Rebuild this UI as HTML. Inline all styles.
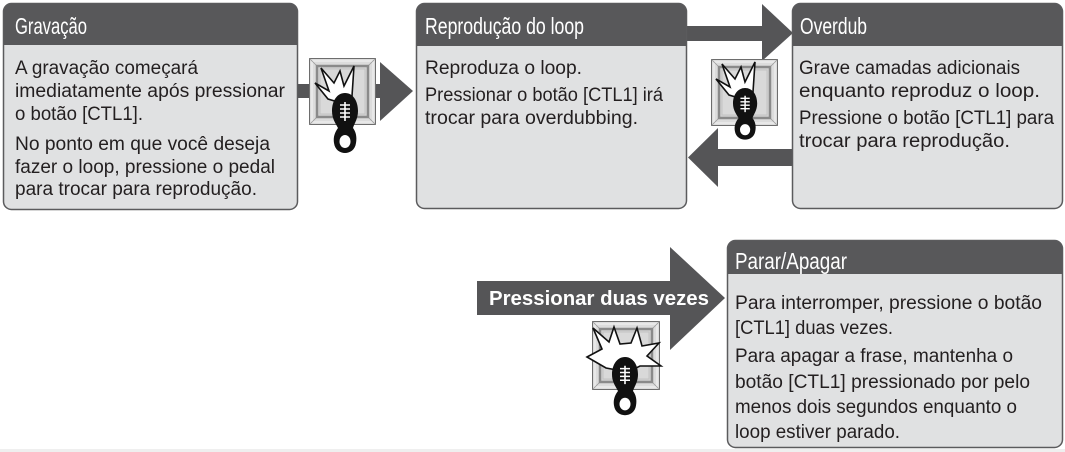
<!DOCTYPE html>
<html>
<head>
<meta charset="utf-8">
<style>
  html, body { margin: 0; padding: 0; background: #ffffff; }
  body { width: 1065px; height: 452px; overflow: hidden; }
  svg { display: block; }
  .t { font-family: "Liberation Sans", Arial, sans-serif; font-size: 19px; fill: #231f20; }
  .h { font-family: "Liberation Sans Narrow", "Liberation Sans", Arial, sans-serif; font-size: 23px; fill: #ffffff; }
  .b { font-family: "Liberation Sans", Arial, sans-serif; font-size: 20px; font-weight: bold; fill: #ffffff; }
</style>
</head>
<body>
<svg width="1065" height="452" viewBox="0 0 1065 452" xmlns="http://www.w3.org/2000/svg">
  <rect x="0" y="0" width="1065" height="452" fill="#ffffff"/>
  <rect x="0" y="449" width="1065" height="3" fill="#efefef"/>

  <!-- ===== Arrows ===== -->
  <rect x="296" y="84" width="90" height="14" fill="#555557"/>
  <polygon points="380,62 413,91 380,121" fill="#555557"/>
  <rect x="685" y="26" width="80" height="15" fill="#555557"/>
  <polygon points="762,4 793,33 762,61" fill="#555557"/>
  <rect x="714" y="149" width="80" height="17" fill="#555557"/>
  <polygon points="718,128 688,157.5 718,187" fill="#555557"/>
  <polygon points="477,281 670,281 670,247 725,298 670,350 670,315 477,315" fill="#555557"/>
  <text class="b" x="489" y="305" textLength="220" lengthAdjust="spacingAndGlyphs">Pressionar duas vezes</text>

  <!-- ===== Box 1: Gravação ===== -->
  <rect x="3.5" y="3.5" width="294" height="206" rx="8" fill="#e0e1e2"/>
  <path d="M3.5,45 V11.5 Q3.5,3.5 11.5,3.5 H289.5 Q297.5,3.5 297.5,11.5 V45 Z" fill="#58585a"/>
  <rect x="3.5" y="3.5" width="294" height="206" rx="8" fill="none" stroke="#5b5b5d" stroke-width="1.5"/>
  <text class="h" x="15" y="34" textLength="72" lengthAdjust="spacingAndGlyphs">Gravação</text>
  <text class="t" x="15" y="74" textLength="183" lengthAdjust="spacingAndGlyphs">A gravação começará</text>
  <text class="t" x="15" y="97" textLength="270" lengthAdjust="spacingAndGlyphs">imediatamente após pressionar</text>
  <text class="t" x="15" y="120" textLength="128" lengthAdjust="spacingAndGlyphs">o botão [CTL1].</text>
  <text class="t" x="15" y="150" textLength="255" lengthAdjust="spacingAndGlyphs">No ponto em que você deseja</text>
  <text class="t" x="15" y="173" textLength="260" lengthAdjust="spacingAndGlyphs">fazer o loop, pressione o pedal</text>
  <text class="t" x="15" y="195" textLength="242" lengthAdjust="spacingAndGlyphs">para trocar para reprodução.</text>

  <!-- ===== Box 2: Reprodução do loop ===== -->
  <rect x="416.5" y="3.5" width="270" height="205" rx="8" fill="#e0e1e2"/>
  <path d="M416.5,46 V11.5 Q416.5,3.5 424.5,3.5 H678.5 Q686.5,3.5 686.5,11.5 V46 Z" fill="#58585a"/>
  <rect x="416.5" y="3.5" width="270" height="205" rx="8" fill="none" stroke="#5b5b5d" stroke-width="1.5"/>
  <text class="h" x="425" y="34" textLength="159" lengthAdjust="spacingAndGlyphs">Reprodução do loop</text>
  <text class="t" x="425" y="74" textLength="157" lengthAdjust="spacingAndGlyphs">Reproduza o loop.</text>
  <text class="t" x="425" y="101" textLength="238" lengthAdjust="spacingAndGlyphs">Pressionar o botão [CTL1] irá</text>
  <text class="t" x="425" y="124" textLength="213" lengthAdjust="spacingAndGlyphs">trocar para overdubbing.</text>

  <!-- ===== Box 3: Overdub ===== -->
  <rect x="792.5" y="3.5" width="270" height="205" rx="8" fill="#e0e1e2"/>
  <path d="M792.5,46 V11.5 Q792.5,3.5 800.5,3.5 H1054.5 Q1062.5,3.5 1062.5,11.5 V46 Z" fill="#58585a"/>
  <rect x="792.5" y="3.5" width="270" height="205" rx="8" fill="none" stroke="#5b5b5d" stroke-width="1.5"/>
  <text class="h" x="800" y="34" textLength="67" lengthAdjust="spacingAndGlyphs">Overdub</text>
  <text class="t" x="799" y="74" textLength="221" lengthAdjust="spacingAndGlyphs">Grave camadas adicionais</text>
  <text class="t" x="799" y="97" textLength="241" lengthAdjust="spacingAndGlyphs">enquanto reproduz o loop.</text>
  <text class="t" x="799" y="124" textLength="255" lengthAdjust="spacingAndGlyphs">Pressione o botão [CTL1] para</text>
  <text class="t" x="799" y="147" textLength="211" lengthAdjust="spacingAndGlyphs">trocar para reprodução.</text>

  <!-- ===== Box 4: Parar/Apagar ===== -->
  <rect x="727.5" y="240.5" width="335" height="207" rx="8" fill="#e0e1e2"/>
  <path d="M727.5,274 V248.5 Q727.5,240.5 735.5,240.5 H1054.5 Q1062.5,240.5 1062.5,248.5 V274 Z" fill="#58585a"/>
  <rect x="727.5" y="240.5" width="335" height="207" rx="8" fill="none" stroke="#5b5b5d" stroke-width="1.5"/>
  <text class="h" x="735" y="269" textLength="112" lengthAdjust="spacingAndGlyphs">Parar/Apagar</text>
  <text class="t" x="735" y="309" textLength="307" lengthAdjust="spacingAndGlyphs">Para interromper, pressione o botão</text>
  <text class="t" x="735" y="334" textLength="158" lengthAdjust="spacingAndGlyphs">[CTL1] duas vezes.</text>
  <text class="t" x="735" y="362" textLength="278" lengthAdjust="spacingAndGlyphs">Para apagar a frase, mantenha o</text>
  <text class="t" x="735" y="388" textLength="295" lengthAdjust="spacingAndGlyphs">botão [CTL1] pressionado por pelo</text>
  <text class="t" x="735" y="413" textLength="282" lengthAdjust="spacingAndGlyphs">menos dois segundos enquanto o</text>
  <text class="t" x="735" y="438" textLength="165" lengthAdjust="spacingAndGlyphs">loop estiver parado.</text>

  <!-- ===== Icon 1 ===== -->
  <g transform="translate(309,58)">
    <rect x="0.5" y="0.5" width="66" height="66" fill="#dcdcdc" stroke="#6d6d6d" stroke-width="1"/>
    <rect x="3" y="3" width="61" height="61" fill="none" stroke="#f4f4f4" stroke-width="1"/>
    <path d="M0.5,0.5 L8,8 M66.5,0.5 L59,8 M0.5,66.5 L8,59 M66.5,66.5 L59,59" stroke="#9a9a9a" stroke-width="0.8"/>
    <rect x="8" y="8" width="51" height="51" fill="#d2d2d2" stroke="#8a8a8a" stroke-width="2.5"/>
    <rect x="11" y="11" width="45" height="45" fill="#d9d9d9" stroke="#c2c2c2" stroke-width="1"/>
  </g>
  <polygon points="315,83 329,91 321,68 334,83 340,71 344,86 354,66 352,96 338,102 328,99" fill="#ffffff" stroke="#111111" stroke-width="1.6" stroke-linejoin="miter"/>
  <g transform="translate(332,93)">
    <path d="M13 0 C21 0 26 8 26 18 C26 26 22 31 21 35 C24 39 25 44 24 50 C23 57 18 60 13 60 C8 60 3 57 2 50 C1 44 3 39 6 35 C4 31 0 26 0 18 C0 8 5 0 13 0 Z" fill="#111111"/>
    <ellipse cx="13" cy="48.5" rx="5.5" ry="6.5" fill="#ffffff"/>
    <path d="M13 9 V28 M8 12 H18 M8 16 H18 M8 20 H18 M8 24 H18" stroke="#ffffff" stroke-width="1.6" fill="none"/>
  </g>

  <!-- ===== Icon 2 ===== -->
  <g transform="translate(711,59)">
    <rect x="0.5" y="0.5" width="66" height="66" fill="#dcdcdc" stroke="#6d6d6d" stroke-width="1"/>
    <rect x="3" y="3" width="61" height="61" fill="none" stroke="#f4f4f4" stroke-width="1"/>
    <path d="M0.5,0.5 L8,8 M66.5,0.5 L59,8 M0.5,66.5 L8,59 M66.5,66.5 L59,59" stroke="#9a9a9a" stroke-width="0.8"/>
    <rect x="8" y="8" width="51" height="51" fill="#d2d2d2" stroke="#8a8a8a" stroke-width="2.5"/>
    <rect x="11" y="11" width="45" height="45" fill="#d9d9d9" stroke="#c2c2c2" stroke-width="1"/>
  </g>
  <polygon points="716,79 730,87 722,64 735,79 741,67 745,82 755,62 753,92 739,98 729,95" fill="#ffffff" stroke="#111111" stroke-width="1.6" stroke-linejoin="miter"/>
  <g transform="translate(733,88) scale(0.93,0.86)">
    <path d="M13 0 C21 0 26 8 26 18 C26 26 22 31 21 35 C24 39 25 44 24 50 C23 57 18 60 13 60 C8 60 3 57 2 50 C1 44 3 39 6 35 C4 31 0 26 0 18 C0 8 5 0 13 0 Z" fill="#111111"/>
    <ellipse cx="13" cy="48.5" rx="5.5" ry="6.5" fill="#ffffff"/>
    <path d="M13 9 V28 M8 12 H18 M8 16 H18 M8 20 H18 M8 24 H18" stroke="#ffffff" stroke-width="1.6" fill="none"/>
  </g>

  <!-- ===== Icon 3 ===== -->
  <g transform="translate(592,321)">
    <rect x="0.5" y="0.5" width="67" height="68" fill="#dcdcdc" stroke="#6d6d6d" stroke-width="1"/>
    <rect x="3" y="3" width="62" height="63" fill="none" stroke="#f4f4f4" stroke-width="1"/>
    <path d="M0.5,0.5 L8,8 M67.5,0.5 L60,8 M0.5,68.5 L8,61 M67.5,68.5 L60,61" stroke="#9a9a9a" stroke-width="0.8"/>
    <rect x="8" y="8" width="52" height="53" fill="#d2d2d2" stroke="#8a8a8a" stroke-width="2.5"/>
    <rect x="11" y="11" width="46" height="47" fill="#d9d9d9" stroke="#c2c2c2" stroke-width="1"/>
  </g>
  <polygon points="587,357 602,349 593,328 609,342 614,327 620,344 631,343 637,328 642,346 659,343 647,356 661,366 640,366 628,372 606,368" fill="#ffffff" stroke="#111111" stroke-width="1.6" stroke-linejoin="miter"/>
  <g transform="translate(612,357) scale(1,0.97)">
    <path d="M13 0 C21 0 26 8 26 18 C26 26 22 31 21 35 C24 39 25 44 24 50 C23 57 18 60 13 60 C8 60 3 57 2 50 C1 44 3 39 6 35 C4 31 0 26 0 18 C0 8 5 0 13 0 Z" fill="#111111"/>
    <ellipse cx="13" cy="48.5" rx="5.5" ry="6.5" fill="#ffffff"/>
    <path d="M13 9 V28 M8 12 H18 M8 16 H18 M8 20 H18 M8 24 H18" stroke="#ffffff" stroke-width="1.6" fill="none"/>
  </g>
</svg>
</body>
</html>
